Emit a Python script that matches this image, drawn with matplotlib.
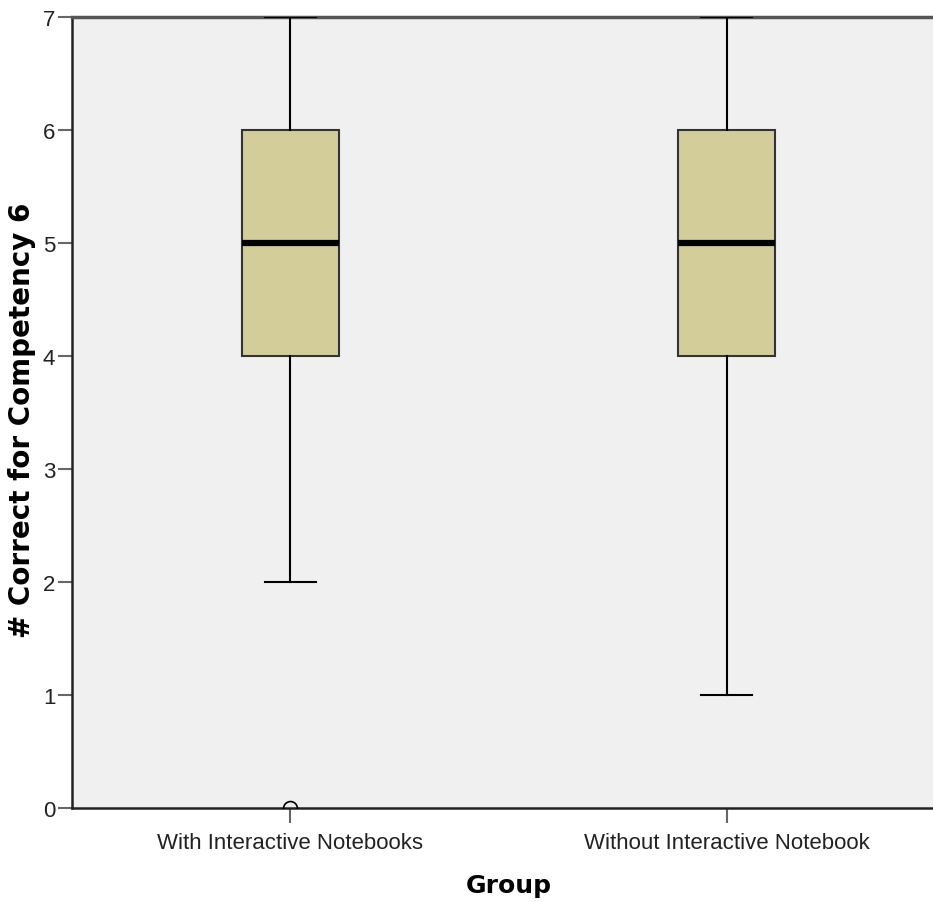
import matplotlib.pyplot as plt

# summary stats
groups = ["With Interactive Notebooks", "Without Interactive Notebook"]
whisker_low = [2, 1]
q1 = [4, 4]
medians = [5, 5]
q3 = [6, 6]
whisker_high = [7, 7]
outliers = [[0], []]
yticks = [0, 1, 2, 3, 4, 5, 6, 7]

plt.rcParams['font.family'] = ['Liberation Sans', 'DejaVu Sans']

stats = []
for i, name in enumerate(groups):
    stats.append({
        "label": name,
        "whislo": whisker_low[i],
        "q1": q1[i],
        "med": medians[i],
        "q3": q3[i],
        "whishi": whisker_high[i],
        "fliers": outliers[i],
    })

fig = plt.figure(figsize=(9.33, 9.03), dpi=100)
ax = fig.add_axes([72 / 933, 1 - 809 / 903, (945 - 72) / 933, (809 - 18) / 903])
ax.set_facecolor("#f0f0f0")

ax.bxp(stats, positions=[1, 2], widths=0.222, patch_artist=True,
       boxprops=dict(facecolor="#d3ce99", edgecolor="#333333", linewidth=1.5),
       medianprops=dict(color="black", linewidth=4.5),
       whiskerprops=dict(color="black", linewidth=1.5),
       capprops=dict(color="black", linewidth=1.5),
       capwidths=0.117,
       flierprops=dict(marker="o", markerfacecolor="none", markeredgecolor="black",
                       markersize=10, markeredgewidth=1.2),
       zorder=3)

ax.set_xlim(0.5, 2.5)
ax.set_ylim(0, 7)
ax.set_yticks(yticks)
ax.set_xticks([1, 2])
ax.set_xticklabels(groups)
ax.tick_params(axis="both", labelsize=16, color="#666666", width=1.5, length=11, pad=3)
ax.tick_params(axis="y", length=10, pad=2)
ax.tick_params(axis="x", pad=6)

for side in ["left", "bottom"]:
    ax.spines[side].set_linewidth(1.8)
    ax.spines[side].set_color("#222222")
ax.spines["top"].set_linewidth(2.5)
ax.spines["top"].set_color("#555555")
ax.spines["right"].set_visible(False)

# axis titles placed in figure pixels so the wide y title fits left of the ticks
fig.text(22 / 933, 1 - 420 / 903, "# Correct for Competency 6", rotation=90,
         ha="center", va="center", fontsize=20, fontweight="bold", family="DejaVu Sans")
fig.text(509 / 933, 1 - 886 / 903, "Group", ha="center", va="center",
         fontsize=18, fontweight="bold", family="DejaVu Sans")

for lab in ax.get_xticklabels() + ax.get_yticklabels():
    lab.set_color("#222222")

fig.savefig("out.png", dpi=100)
